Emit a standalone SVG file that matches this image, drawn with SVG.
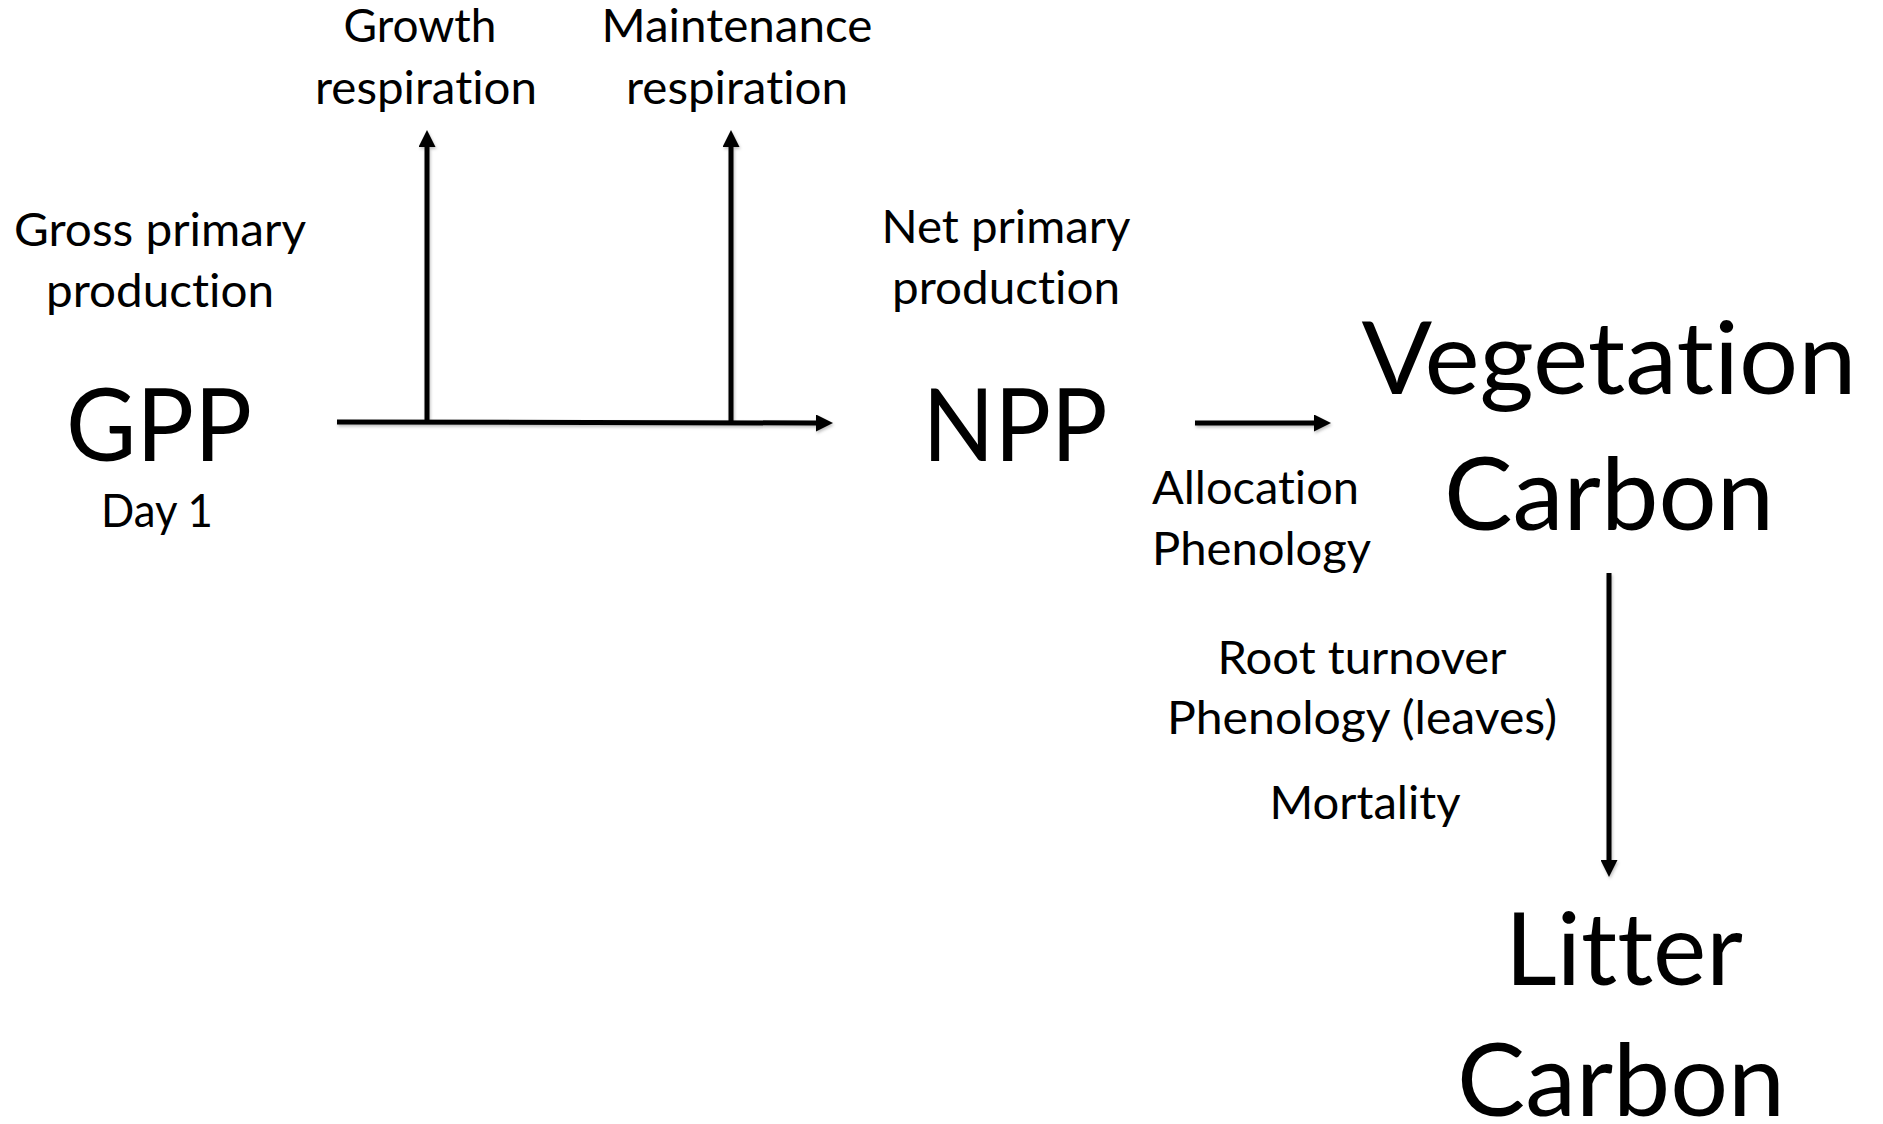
<svg xmlns="http://www.w3.org/2000/svg" width="1883" height="1124" viewBox="0 0 1883 1124">
<style>
text{font-family:Lato,"Liberation Sans",sans-serif;fill:#000;text-anchor:middle;font-variant-ligatures:none;font-feature-settings:"liga" 0,"clig" 0}
.s{font-size:46px}
.b{font-size:101px}
.l{text-anchor:start}
.c{stroke:#000;stroke-width:5;fill:none}
</style>
<defs>
<marker id="ah" viewBox="0 0 17 17" refX="0" refY="8.5" markerWidth="17" markerHeight="17" markerUnits="userSpaceOnUse" orient="auto">
<path d="M0,0 L17,8.5 L0,17 Z" fill="#000"/>
</marker>
<filter id="sh" x="-20%" y="-20%" width="140%" height="140%">
<feDropShadow dx="1" dy="2" stdDeviation="1.5" flood-color="#000" flood-opacity="0.25"/>
</filter>
</defs>
<rect width="1883" height="1124" fill="#fff"/>
<g id="connectors" filter="url(#sh)">
<line class="c" x1="337" y1="422" x2="816" y2="423" marker-end="url(#ah)"/>
<line class="c" x1="427" y1="422" x2="427" y2="147" marker-end="url(#ah)"/>
<line class="c" x1="731" y1="423" x2="731" y2="147" marker-end="url(#ah)"/>
<line class="c" x1="1195" y1="423" x2="1314" y2="423" marker-end="url(#ah)"/>
<line class="c" x1="1609" y1="573" x2="1609" y2="860" marker-end="url(#ah)"/>
</g>
<g id="growth-respiration">
<text class="s" x="420" y="42" textLength="153" lengthAdjust="spacingAndGlyphs">Growth</text>
<text class="s" x="426" y="104" textLength="222" lengthAdjust="spacingAndGlyphs">respiration</text>
</g>
<g id="maintenance-respiration">
<text class="s" x="737" y="42" textLength="271" lengthAdjust="spacingAndGlyphs">Maintenance</text>
<text class="s" x="737" y="104" textLength="222" lengthAdjust="spacingAndGlyphs">respiration</text>
</g>
<g id="gpp">
<text class="s" x="160" y="246" textLength="292" lengthAdjust="spacingAndGlyphs">Gross primary</text>
<text class="s" x="160" y="307" textLength="228" lengthAdjust="spacingAndGlyphs">production</text>
<text class="b" x="159" y="461" textLength="186" lengthAdjust="spacingAndGlyphs">GPP</text>
<text class="s" x="157" y="527" textLength="112" lengthAdjust="spacingAndGlyphs">Day 1</text>
</g>
<g id="npp">
<text class="s" x="1006" y="243" textLength="249" lengthAdjust="spacingAndGlyphs">Net primary</text>
<text class="s" x="1006" y="304" textLength="228" lengthAdjust="spacingAndGlyphs">production</text>
<text class="b" x="1015" y="461" textLength="185" lengthAdjust="spacingAndGlyphs">NPP</text>
</g>
<g id="allocation-label">
<text class="s l" x="1152" y="504" textLength="207" lengthAdjust="spacingAndGlyphs">Allocation</text>
<text class="s l" x="1152" y="565" textLength="219" lengthAdjust="spacingAndGlyphs">Phenology</text>
</g>
<g id="vegetation-carbon">
<text class="b" x="1609" y="394" textLength="495" lengthAdjust="spacingAndGlyphs">Vegetation</text>
<text class="b" x="1609" y="530" textLength="330" lengthAdjust="spacingAndGlyphs">Carbon</text>
</g>
<g id="turnover-label">
<text class="s" x="1362" y="674" textLength="289" lengthAdjust="spacingAndGlyphs">Root turnover</text>
<text class="s" x="1362" y="734" textLength="390" lengthAdjust="spacingAndGlyphs">Phenology (leaves)</text>
<text class="s" x="1365" y="819" textLength="191" lengthAdjust="spacingAndGlyphs">Mortality</text>
</g>
<g id="litter-carbon">
<text class="b" x="1624" y="985" textLength="238" lengthAdjust="spacingAndGlyphs">Litter</text>
<text class="b" x="1621" y="1116" textLength="328" lengthAdjust="spacingAndGlyphs">Carbon</text>
</g>
</svg>
